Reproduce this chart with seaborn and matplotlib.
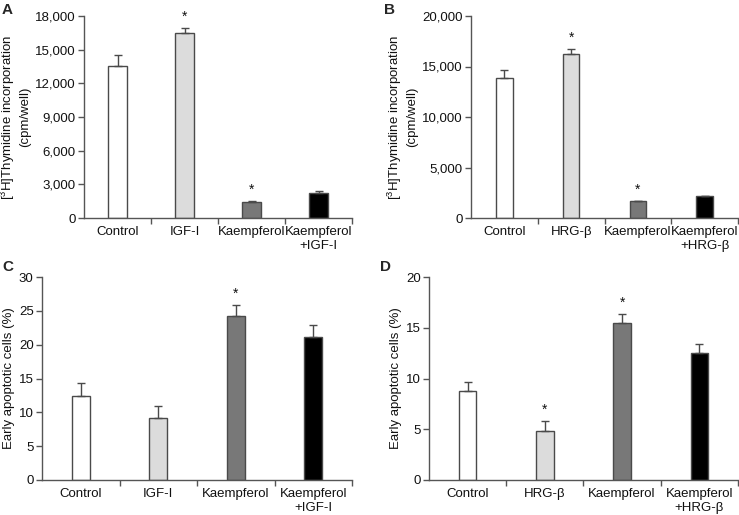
import matplotlib
matplotlib.use("Agg")
import matplotlib.pyplot as plt
import seaborn as sns
import pandas as pd
from matplotlib.ticker import FixedLocator, FuncFormatter

sns.set_style("ticks")
plt.rcParams['font.family'] = ['Liberation Sans', 'DejaVu Sans']
plt.rcParams['font.size'] = 9.5
plt.rcParams['mathtext.fontset'] = 'custom'
plt.rcParams['mathtext.rm'] = 'Liberation Sans'
plt.rcParams['mathtext.it'] = 'Liberation Sans:italic'

cats_igf = ["Control", "IGF-I", "Kaempferol", "Kaempferol\n+IGF-I"]
cats_hrg = ["Control", "HRG-β", "Kaempferol", "Kaempferol\n+HRG-β"]

thy_igf = [13560, 16520, 1420, 2220]
thy_igf_err = [1000, 410, 120, 150]
thy_hrg = [13910, 16280, 1640, 2140]
thy_hrg_err = [790, 460, 70, 30]
apo_igf = [12.4, 9.1, 24.2, 21.1]
apo_igf_err = [1.9, 1.9, 1.7, 1.8]
apo_hrg = [8.8, 4.8, 15.45, 12.5]
apo_hrg_err = [0.9, 1.0, 0.9, 0.9]

sig_a = [False, True, True, False]
sig_b = [False, True, True, False]
sig_c = [False, False, True, False]
sig_d = [False, True, True, False]

colors = ["#ffffff", "#dcdcdc", "#787878", "#000000"]
edge = "#4a4a4a"
axc = "#555555"
txt = "#111111"

fig = plt.figure(figsize=(7.39, 5.15), dpi=100)

def panel(rect, cats, vals, errs, sig, ymax, ystep, ylabel, letter, lpos, width, fmt_comma, star_off):
    ax = fig.add_axes(rect)
    df = pd.DataFrame({"cat": cats, "val": vals})
    sns.barplot(data=df, x="cat", y="val", hue="cat", palette=colors, legend=False,
                width=width, edgecolor=edge, linewidth=1.0, ax=ax, errorbar=None)
    ax.errorbar(range(4), vals, yerr=[[0]*4, errs], fmt="none", ecolor=edge,
                elinewidth=1.0, capsize=3, capthick=1.0)
    for i in range(4):
        if sig[i]:
            ax.text(i, vals[i] + errs[i] + star_off * ymax, "*", ha="center", va="bottom",
                    fontsize=10, color=txt)
    ax.set_xlim(-0.5, 3.5)
    ax.set_ylim(0, ymax)
    ax.set_yticks([ystep * k for k in range(int(round(ymax / ystep)) + 1)])
    if fmt_comma:
        ax.yaxis.set_major_formatter(FuncFormatter(lambda v, p: f"{int(v):,}"))
    else:
        ax.yaxis.set_major_formatter(FuncFormatter(lambda v, p: f"{int(v)}"))
    ax.set_xticks(range(4))
    ax.set_xticklabels(cats)
    ax.tick_params(axis="x", which="major", length=0, pad=6, labelcolor=txt)
    ax.xaxis.set_minor_locator(FixedLocator([0.5, 1.5, 2.5, 3.5]))
    ax.tick_params(axis="x", which="minor", length=4, direction="out", color=axc, width=1.0)
    ax.tick_params(axis="y", length=4, direction="out", color=axc, width=1.0, pad=2,
                   labelcolor=txt)
    sns.despine(ax=ax)
    for s in ["left", "bottom"]:
        ax.spines[s].set_color(axc)
        ax.spines[s].set_linewidth(1.0)
    ax.set_xlabel("")
    ax.set_ylabel(ylabel, fontsize=9.5, labelpad=3, color=txt)
    fig.text(lpos[0], lpos[1], letter, fontsize=11, fontweight="bold", ha="left", va="top")
    return ax

yl_thy = "[$^{3}$H]Thymidine incorporation\n(cpm/well)"

panel([84/739, 1-218/515, 268/739, 202/515], cats_igf, thy_igf, thy_igf_err, sig_a,
      18000, 3000, yl_thy, "A", (2/739, 1-3/515), 0.28, True, 0.02)
panel([471/739, 1-218/515, 267/739, 202/515], cats_hrg, thy_hrg, thy_hrg_err, sig_b,
      20000, 5000, yl_thy, "B", (384/739, 1-3/515), 0.25, True, 0.02)
panel([42/739, 1-480/515, 310/739, 203/515], cats_igf, apo_igf, apo_igf_err, sig_c,
      30, 5, "Early apoptotic cells (%)", "C", (2/739, 1-260/515), 0.23, False, 0.02)
panel([429/739, 1-480/515, 309/739, 203/515], cats_hrg, apo_hrg, apo_hrg_err, sig_d,
      20, 5, "Early apoptotic cells (%)", "D", (380/739, 1-260/515), 0.225, False, 0.02)

fig.savefig("out.png", dpi=100)
